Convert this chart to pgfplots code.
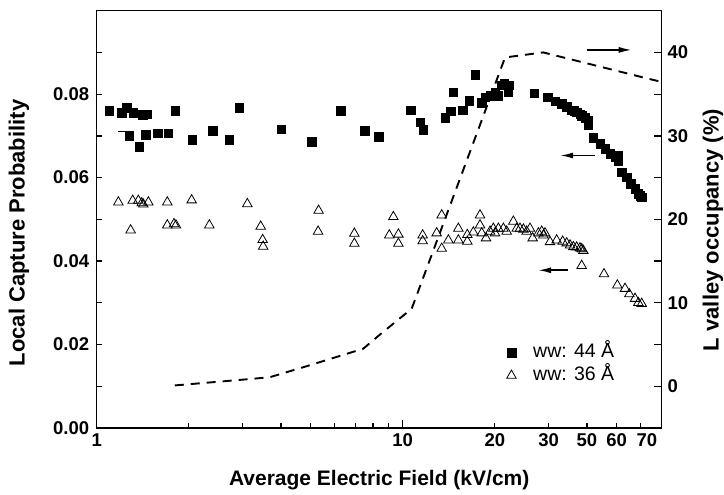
\documentclass[border=0pt]{standalone}
\usepackage{fontspec}
\setmainfont{Liberation Sans}
\usepackage{pgfplots}
\pgfplotsset{compat=1.18}
\usetikzlibrary{arrows.meta}

\pgfplotstableread{
x y
1.100 0.0760
1.207 0.0756
1.253 0.0768
1.317 0.0756
1.413 0.0751
1.457 0.0752
1.278 0.0700
1.378 0.0674
1.449 0.0703
1.582 0.0706
1.714 0.0706
1.803 0.0760
2.053 0.0691
2.393 0.0713
2.713 0.0691
2.925 0.0768
4.002 0.0716
5.04 0.0686
6.27 0.0761
7.51 0.0712
8.35 0.0698
10.62 0.0762
11.39 0.0733
11.68 0.0715
13.75 0.0743
14.35 0.0759
14.64 0.0805
15.70 0.0762
16.51 0.0785
17.23 0.0847
18.12 0.0780
18.58 0.0793
19.29 0.0796
20.03 0.0805
20.54 0.0796
21.06 0.0821
21.43 0.0825
22.14 0.0805
22.31 0.0821
26.86 0.0802
29.77 0.0793
31.46 0.0783
33.07 0.0777
34.34 0.0770
35.66 0.0762
36.30 0.0760
37.03 0.0757
38.00 0.0752
38.45 0.0749
39.42 0.0743
40.43 0.0737
40.43 0.0727
41.98 0.0695
44.15 0.0681
45.83 0.0669
47.59 0.0657
49.40 0.0649
50.66 0.0653
50.66 0.0641
51.94 0.0613
53.93 0.0601
55.59 0.0585
57.43 0.0573
58.89 0.0561
59.80 0.0557
60.39 0.0553
}\wwfortyfour

\pgfplotstableread{
x y
1.177 0.0541
1.311 0.0545
1.368 0.0545
1.403 0.0539
1.420 0.0536
1.475 0.0541
1.701 0.0541
2.043 0.0546
3.107 0.0537
5.31 0.0521
1.291 0.0474
1.701 0.0486
1.789 0.0489
1.816 0.0486
2.334 0.0486
3.435 0.0483
3.486 0.0451
3.50 0.0435
5.29 0.0471
6.95 0.0466
6.95 0.0442
9.04 0.0462
9.32 0.0506
9.68 0.0464
9.68 0.0442
11.62 0.0462
11.62 0.0448
12.91 0.0467
13.41 0.0510
13.41 0.0430
14.10 0.0450
15.20 0.0478
15.20 0.0450
16.26 0.0463
16.26 0.0447
17.01 0.0469
17.89 0.0510
17.89 0.0486
18.12 0.0467
18.72 0.0455
19.29 0.0471
19.78 0.0478
20.03 0.0467
20.54 0.0478
21.33 0.0478
21.87 0.0471
22.99 0.0495
23.58 0.0478
24.17 0.0478
24.80 0.0476
25.42 0.0471
26.06 0.0478
26.59 0.0455
27.76 0.0467
28.46 0.0471
28.82 0.0462
29.17 0.0467
30.29 0.0446
31.85 0.0450
33.32 0.0447
34.34 0.0443
35.22 0.0438
36.12 0.0434
37.03 0.0433
37.96 0.0431
38.45 0.0429
38.93 0.0425
38.45 0.0389
45.48 0.0369
50.27 0.0342
53.27 0.0334
55.03 0.0321
57.43 0.0310
58.89 0.0300
60.39 0.0298
}\wwthirtysix

\pgfplotstableread{
x y
1.80 0.1
3.25 0.9
3.69 1.1
4.85 2.4
7.43 4.5
8.43 6.2
10.7 9.3
21.6 39.4
28.8 40.0
61.1 37.0
69.5 36.5
}\Lvalley

\begin{document}
\begin{tikzpicture}
\begin{axis}[
  name=main, at={(0,0)}, anchor=south west,
  scale only axis, width=565pt, height=417.3pt,
  xmode=log, xmin=1, xmax=70.2,
  ymin=0, ymax=0.1,
  xtick={1,20,30,40,50,60}, xticklabels={1,20,30,50,60,{\hspace*{12pt}\raisebox{1.5pt}{70}}},
  extra x ticks={10},
  extra x tick labels={10},
  extra x tick style={major tick length=8pt},
  minor xtick={2,3,4,5,6,7,8,9},
  ytick={0,0.02,0.04,0.06,0.08},
  yticklabels={0.00,0.02,0.04,0.06,0.08},
  minor ytick={0.01,0.03,0.05,0.07,0.09},
  xtick pos=left, ytick pos=left,
  tick align=inside,
  major tick length=5pt, minor tick length=5pt,
  axis line style={line width=1.5pt},
  every tick/.style={line width=1.3pt, black},
  tick label style={font=\bfseries\fontsize{18.5}{18.5}\selectfont},
  x tick label style={yshift=-2.5pt},
  y tick label style={xshift=-4pt},
  legend style={at={(rel axis cs:0.720,0.210)}, anchor=north west, draw=none, fill=none,
    font=\fontsize{19.5}{19.5}\selectfont, column sep=16pt, row sep=3pt,
    nodes={inner sep=1pt, text height=14pt, text depth=4pt}},
  legend cell align=left,
]
\addplot[only marks, mark=square*, mark size=4.3pt, black, fill=black] table {\wwfortyfour};
\addlegendentry{ww: 44 Å}
\addplot[only marks, mark=triangle, mark size=5.5pt, black, mark options={line width=0.8pt, fill=none}] table {\wwthirtysix};
\addlegendentry{ww: 36 Å}
\draw[line width=1.6pt, -{Latex[length=13pt,width=6pt]}] (axis cs:39.93,0.0906) -- (axis cs:56.03,0.0906);
\draw[line width=1.6pt, -{Latex[length=13pt,width=6pt]}] (axis cs:42.5,0.0653) -- (axis cs:32.7,0.0653);
\draw[line width=1.6pt, -{Latex[length=13pt,width=6pt]}] (axis cs:34.8,0.0378) -- (axis cs:27.7,0.0378);
\draw[line width=1.2pt] (axis cs:1.177,0.0711) -- (axis cs:1.30,0.0711);
\end{axis}
\begin{axis}[
  at={(0,0)}, anchor=south west,
  scale only axis, width=565pt, height=417.3pt,
  xmode=log, xmin=1, xmax=70.2,
  axis x line=none, axis y line*=right,
  ymin=-5, ymax=45,
  ytick={0,10,20,30,40}, yticklabels={0,10,20,30,40},
  minor ytick={5,15,25,35},
  tick align=inside,
  major tick length=8pt, minor tick length=8pt,
  axis line style={line width=1.5pt},
  every tick/.style={line width=1.3pt, black},
  tick label style={font=\bfseries\fontsize{18.5}{18.5}\selectfont},
  y tick label style={xshift=2.3pt},
]
\addplot[black, line width=1.9pt, dash pattern=on 9pt off 7pt] table {\Lvalley};
\end{axis}
\node[font=\bfseries\fontsize{21}{21}\selectfont, anchor=base] at (282.5pt,-58pt) {Average Electric Field (kV/cm)};
\node[font=\bfseries\fontsize{22}{22}\selectfont, rotate=90, anchor=center] at (-77.7pt,195pt) {Local Capture Probability};
\node[font=\bfseries\fontsize{22}{22}\selectfont, rotate=90, anchor=center] at (616.3pt,198pt) {L valley occupancy (\%)};
\pgfresetboundingbox
\useasboundingbox (-96.7pt,-67pt) rectangle (627.3pt,428pt);
\end{tikzpicture}
\end{document}
